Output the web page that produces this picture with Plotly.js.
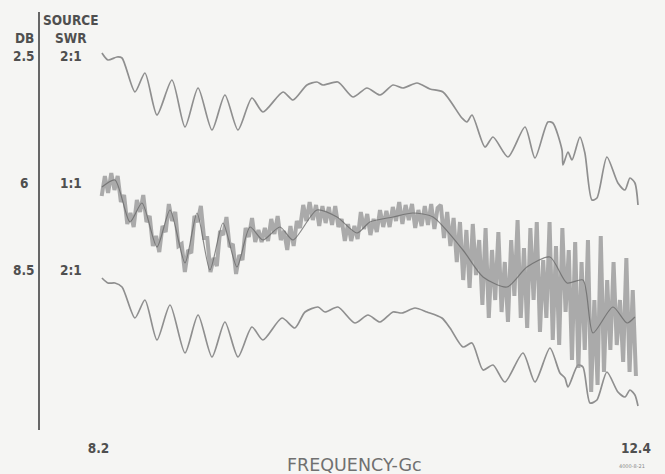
<!DOCTYPE html>
<html>
<head>
<meta charset="utf-8">
<script src="https://cdn.plot.ly/plotly-3.0.1.min.js"></script>
<style>html,body{margin:0;padding:0;background:#f5f5f3;}#chart{width:665px;height:474px;}</style>
</head>
<body>
<div id="chart"></div>
<script>
// Frequency (Gc) and pen position (chart units, top = small)
const upperFreq = [8.227,8.274,8.345,8.384,8.485,8.563,8.657,8.774,8.876,8.978,9.087,9.188,9.290,9.399,9.485,9.642,9.720,9.829,9.907,9.954,10.071,10.189,10.298,10.400,10.501,10.579,10.689,10.790,10.892,11.040,11.079,11.119,11.220,11.283,11.400,11.533,11.611,11.712,11.751,11.822,11.830,11.869,11.900,11.962,12.001,12.056,12.095,12.173,12.259,12.314,12.353,12.392,12.416];
const upperPos = [53,60,57,58,92,73,115,80,127,88,130,95,130,98,112,92,100,85,82,85,82,97,88,95,85,88,83,89,92,118,122,115,147,137,157,127,158,122,123,150,165,152,160,137,153,200,198,157,183,190,178,183,205];

const lowerFreq = [8.227,8.274,8.329,8.384,8.485,8.563,8.657,8.759,8.876,8.978,9.087,9.188,9.290,9.399,9.485,9.634,9.735,9.814,9.915,9.970,10.071,10.204,10.306,10.400,10.501,10.572,10.673,10.767,10.884,10.947,11.048,11.119,11.205,11.283,11.376,11.517,11.611,11.728,11.806,11.845,11.869,11.947,11.986,12.041,12.095,12.173,12.259,12.314,12.353,12.392,12.416];
const lowerPos = [278,283,283,287,318,300,340,305,353,315,357,322,357,327,340,318,328,312,307,312,307,323,315,322,312,313,308,312,318,328,347,343,370,365,382,353,382,348,373,378,387,365,367,403,400,372,392,397,390,395,406];

const rawFreq = [
8.225,8.250,8.275,8.300,8.325,8.350,8.375,8.400,8.425,8.450,
8.475,8.500,8.525,8.550,8.575,8.600,8.625,8.650,8.675,8.700,
8.725,8.750,8.775,8.800,8.825,8.850,8.875,8.900,8.925,8.950,
8.975,9.000,9.025,9.050,9.075,9.100,9.125,9.150,9.175,9.200,
9.225,9.250,9.275,9.300,9.325,9.350,9.375,9.400,9.425,9.450,
9.475,9.500,9.525,9.550,9.575,9.600,9.625,9.650,9.675,9.700,
9.725,9.750,9.775,9.800,9.825,9.850,9.875,9.900,9.925,9.950,
9.975,10.000,10.025,10.050,10.075,10.100,10.125,10.150,10.175,10.200,
10.225,10.250,10.275,10.300,10.325,10.350,10.375,10.400,10.425,10.450,
10.475,10.500,10.525,10.550,10.575,10.600,10.625,10.650,10.675,10.700,
10.725,10.750,10.775,10.800,10.825,10.850,10.875,10.900,10.925,10.950,
10.975,11.000,11.025,11.050,11.075,11.100,11.125,11.150,11.175,11.200,
11.225,11.250,11.275,11.300,11.325,11.350,11.375,11.400,11.425,11.450,
11.475,11.500,11.525,11.550,11.575,11.600,11.625,11.650,11.675,11.700,
11.725,11.750,11.775,11.800,11.825,11.850,11.875,11.900,11.925,11.950,
11.975,12.000,12.025,12.050,12.075,12.100,12.125,12.150,12.175,12.200,
12.225,12.250,12.275,12.300,12.325,12.350,12.375,12.400];
const rawPos = [
196,176,193,173,190,176,202,195,224,213,
227,200,212,195,222,216,246,236,252,226,
232,204,221,212,246,244,272,250,253,216,
222,206,238,238,272,258,266,231,235,217,
247,244,274,255,260,228,237,218,242,230,
242,228,241,219,234,216,240,231,250,226,
246,221,228,205,221,202,220,205,226,206,
223,207,225,206,227,219,241,224,241,226,
239,212,229,214,235,219,232,210,227,211,
227,207,221,202,224,205,220,204,228,210,
226,206,225,204,229,208,205,238,212,246,
218,262,222,280,230,288,224,275,240,305,
228,318,250,300,232,312,262,322,240,296,
220,318,248,328,228,300,222,332,260,318,
222,340,246,345,228,312,250,360,242,368,
262,350,240,392,300,385,236,372,280,350,
262,345,300,362,258,372,290,376];

const meanFreq = [8.227,8.329,8.446,8.540,8.657,8.759,8.876,8.970,9.071,9.173,9.282,9.384,9.485,9.618,9.720,9.907,10.064,10.220,10.321,10.501,10.657,10.814,11.048,11.205,11.392,11.548,11.728,11.861,11.986,12.064,12.220,12.330,12.392];
const meanPos = [187,180,222,203,247,210,263,213,270,223,267,227,240,227,240,210,217,233,222,217,213,217,250,277,287,267,257,283,280,333,307,323,317];

const dbTicks = [56,183,270];
const dbLabels = ['2.5','6','8.5'];
const swrLabels = ['2:1','1:1','2:1'];
const freqTicks = [8.2,12.4];
const freqLabels = ['8.2','12.4'];

const ink = '#4f4f4f';
const lbl = {family:'"Liberation Sans Narrow", "DejaVu Sans Condensed", sans-serif', size:13.5, color:ink, weight:700};

const traces = [
  {x:upperFreq, y:upperPos, mode:'lines', line:{color:'#8f8f8f', width:1.7, shape:'spline', smoothing:0.7}, hoverinfo:'skip'},
  {x:lowerFreq, y:lowerPos, mode:'lines', line:{color:'#8f8f8f', width:1.7, shape:'spline', smoothing:0.7}, hoverinfo:'skip'},
  {x:rawFreq, y:rawPos, mode:'lines', line:{color:'#979797', width:4}, opacity:0.8, hoverinfo:'skip'},
  {x:meanFreq, y:meanPos, mode:'lines', line:{color:'#666666', width:1.2, shape:'spline', smoothing:0.7}, opacity:0.75, hoverinfo:'skip'}
];

const colX = 8.2 + (71-98.5)*0.007814;
const dbX = (24-40)/625;
const annotations = [
  {text:'DB', x:dbX, xref:'paper', xanchor:'center', y:38, yref:'y', showarrow:false, font:lbl},
  {text:'SOURCE', x:colX, xref:'x', xanchor:'center', y:20, yref:'y', showarrow:false, font:lbl},
  {text:'SWR', x:colX, xref:'x', xanchor:'center', y:38, yref:'y', showarrow:false, font:lbl},
  {text:'FREQUENCY-Gc', x:8.2 + (355-98.5)*0.007814, xref:'x', xanchor:'center', y:-0.084, yref:'paper', yanchor:'middle', showarrow:false,
   font:{family:'"DejaVu Sans", sans-serif', size:17.5, color:'#707070'}},
  {text:'4000-8-21', x:8.2 + (632-98.5)*0.007814, xref:'x', xanchor:'center', y:-0.086, yref:'paper', yanchor:'middle', showarrow:false,
   font:{family:'"DejaVu Sans", sans-serif', size:5, color:'#888'}}
];
for (let i = 0; i < dbTicks.length; i++) {
  annotations.push({text:dbLabels[i], x:dbX, xref:'paper', xanchor:'center', y:dbTicks[i], yref:'y', showarrow:false, font:lbl});
  annotations.push({text:swrLabels[i], x:colX, xref:'x', xanchor:'center', y:dbTicks[i], yref:'y', showarrow:false, font:lbl});
}

const layout = {
  width:665, height:474,
  margin:{l:40, r:0, t:12, b:44},
  paper_bgcolor:'#f5f5f3', plot_bgcolor:'#f5f5f3',
  showlegend:false,
  xaxis:{range:[7.743,12.627], showgrid:false, zeroline:false, showline:false, ticks:'',
         tickvals:freqTicks, ticktext:freqLabels, ticklabelstandoff:8, tickfont:lbl},
  yaxis:{range:[430,12], showgrid:false, zeroline:false, showline:true, linecolor:'#666666', linewidth:2.5,
         ticks:'', showticklabels:false},
  annotations:annotations
};

Plotly.newPlot('chart', traces, layout, {displayModeBar:false, staticPlot:true});
</script>
</body>
</html>
